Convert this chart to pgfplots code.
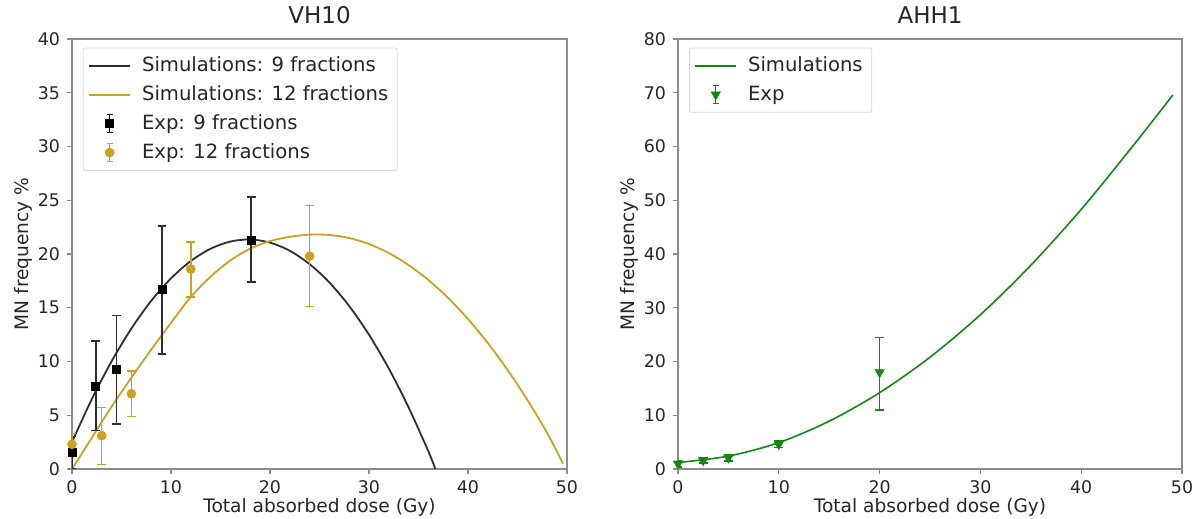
\documentclass[border=0pt]{standalone}
\usepackage{pgfplots}
\pgfplotsset{compat=1.18}
\usepackage{pgfplotstable}
\usepackage{fontspec}
\setmainfont{DejaVu Sans}
\definecolor{simblack}{RGB}{45,45,55}
\definecolor{gold}{RGB}{206,160,32}
\definecolor{mplgreen}{RGB}{20,135,20}
\definecolor{spine}{RGB}{140,140,140}

\pgfplotstableread{
x y ep em
0 1.5 1.5 1.5
2.4 7.7 4.2 4.1
4.5 9.3 5.0 5.1
9.1 16.7 5.9 6.0
18.1 21.3 4.0 3.9
}\expnine

\pgfplotstableread{
x y ep em
0 2.3 1.0 1.0
3 3.1 2.6 2.7
6 7.0 2.1 2.1
12 18.6 2.5 2.6
24 19.8 4.7 4.7
}\exptwelve

\pgfplotstableread{
x y ep em
0 1.0 0.6 0.6
2.5 1.6 0.5 0.5
5 2.1 0.6 0.6
10 4.6 0.6 0.6
20 18.0 6.5 7.0
}\expahh

\pgfplotsset{
  myaxis/.style={
    scale only axis,
    height=215pt,
    xmin=0, xmax=50,
    ymin=0,
    axis line style={spine, line width=0.6pt},
    tick style={spine, line width=0.6pt},
    tick align=outside,
    major tick length=2.5pt,
    xtick pos=bottom, ytick pos=left,
    /pgf/number format/assume math mode=true,
    tick label style={font=\fontsize{8.7}{10}\selectfont, text=black!85},
    label style={font=\fontsize{9.3}{11}\selectfont, text=black!85},
    title style={font=\fontsize{11.5}{13}\selectfont, text=black!85, yshift=-2pt},
    xlabel={Total absorbed dose (Gy)},
    ylabel={MN frequency \%},
    xlabel style={yshift=5pt},
    ylabel style={yshift=-4pt},
    legend cell align=left,
    legend style={font=\fontsize{9.8}{11.5}\selectfont, text=black!85, draw=black!15, rounded corners=1pt,
      at={(0.022,0.98)}, anchor=north west, row sep=1.5pt, column sep=3.5pt, inner sep=2.5pt},
  },
  lineleg/.style={legend image code/.code={
      \draw[##1] (0cm,0cm) -- (0.72cm,0cm);
  }},
  errleg/.style={legend image code/.code={
      \draw[##1, mark=none, line width=0.6pt] (0.36cm,-0.16cm) -- (0.36cm,0.16cm);
      \draw[##1, mark=none, line width=0.6pt] (0.31cm,0.16cm) -- (0.41cm,0.16cm);
      \draw[##1, mark=none, line width=0.6pt] (0.31cm,-0.16cm) -- (0.41cm,-0.16cm);
      \draw[##1, only marks] plot coordinates {(0.36cm,0cm)};
  }},
}

\begin{document}
\begin{tikzpicture}
\path[use as bounding box] (-36pt,-25pt) rectangle (561.5pt,234.5pt);

\begin{axis}[myaxis, at={(0,0)}, anchor=south west, width=247.5pt,
  ymax=40, ytick={0,5,...,40}, xtick={0,10,...,50},
  title={VH10}]
\addplot[simblack, line width=0.9pt, smooth, lineleg] coordinates {
(0,2.50) (2,6.50) (4,10.02) (6,13.07) (8,15.64) (10,17.73) (12,19.35) (14,20.49)
(16,21.16) (18,21.35) (20,21.06) (22,20.30) (24,19.06) (26,17.35) (28,15.16)
(30,12.49) (32,9.35) (34,5.73) (36,1.64) (36.7,0.0)};
\addlegendentry{Simulations: 9 fractions}
\addplot[gold, line width=0.9pt, smooth, lineleg] coordinates {
(0,0) (2,2.9) (4,5.8) (6,8.5) (8,11.1) (10,13.6) (12,16.0) (14,17.9) (16,19.4)
(18,20.5) (20,21.2) (22,21.6) (24,21.8) (26,21.77) (28,21.49) (30,20.93) (32,20.09)
(34,18.97) (36,17.58) (38,15.91) (40,13.95) (42,11.72) (44,9.21) (46,6.42)
(48,3.35) (49.6,0.5)};
\addlegendentry{Simulations: 12 fractions}
\addplot[black, only marks, mark=square*, mark size=2pt, errleg,
  error bars/.cd, y dir=both, y explicit,
  error bar style={simblack, line width=0.75pt},
  error mark options={rotate=90, mark size=2.2pt, simblack, line width=0.75pt}]
  table[x=x, y=y, y error plus=ep, y error minus=em] {\expnine};
\addlegendentry{Exp: 9 fractions}
\addplot[gold, only marks, mark=*, mark size=2.2pt, errleg,
  error bars/.cd, y dir=both, y explicit,
  error bar style={gold, line width=0.75pt},
  error mark options={rotate=90, mark size=2.2pt, gold, line width=0.75pt}]
  table[x=x, y=y, y error plus=ep, y error minus=em] {\exptwelve};
\addlegendentry{Exp: 12 fractions}
\end{axis}

\begin{axis}[myaxis, at={(303pt,0)}, anchor=south west, width=252pt,
  ymax=80, ytick={0,10,...,80}, xtick={0,10,...,50},
  title={AHH1}]
\addplot[mplgreen, line width=0.8pt, smooth, lineleg] coordinates {
(0,1.2) (5,2.4) (10,4.9) (15,8.9) (20,14.2) (25,20.8) (30,28.7) (35,37.9)
(40,48.3) (45,59.8) (49.1,69.6)};
\addlegendentry{Simulations}
\addplot[mplgreen, only marks, mark=triangle*, mark options={rotate=180}, mark size=2.6pt, errleg,
  error bars/.cd, y dir=both, y explicit,
  error bar style={mplgreen, line width=0.75pt},
  error mark options={rotate=90, mark size=2.2pt, mplgreen, line width=0.75pt}]
  table[x=x, y=y, y error plus=ep, y error minus=em] {\expahh};
\addlegendentry{Exp}
\end{axis}
\end{tikzpicture}
\end{document}
